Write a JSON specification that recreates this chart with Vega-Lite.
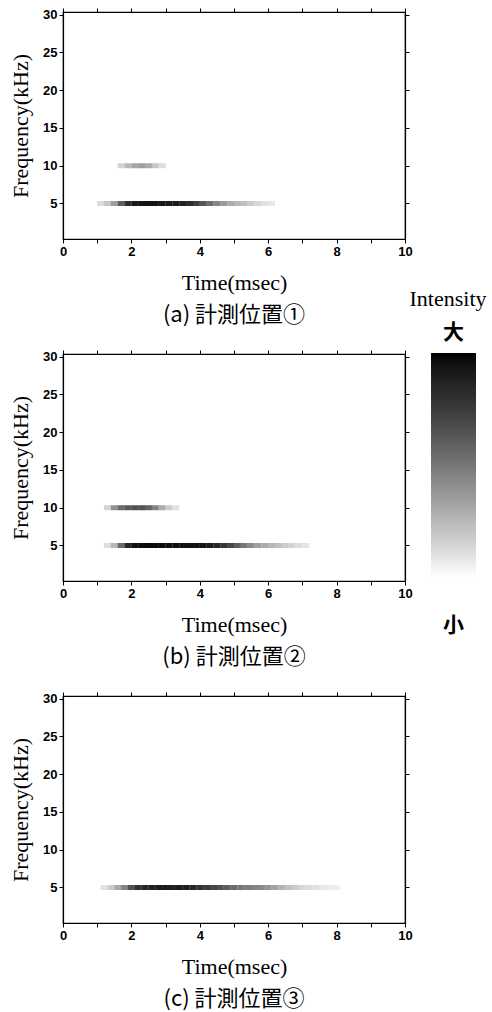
{
  "$schema": "https://vega.github.io/schema/vega-lite/v6.json",
  "background": "white",
  "padding": {"left": 8, "top": 6, "right": 0, "bottom": 0},
  "datasets": {
    "a": [
      {"t":1.1,"f":5,"v":0.12},{"t":1.3,"f":5,"v":0.2},{"t":1.5,"f":5,"v":0.35},{"t":1.7,"f":5,"v":0.6},{"t":1.9,"f":5,"v":0.8},
      {"t":2.1,"f":5,"v":0.9},{"t":2.3,"f":5,"v":0.93},{"t":2.5,"f":5,"v":0.93},{"t":2.7,"f":5,"v":0.93},{"t":2.9,"f":5,"v":0.92},
      {"t":3.1,"f":5,"v":0.9},{"t":3.3,"f":5,"v":0.9},{"t":3.5,"f":5,"v":0.87},{"t":3.7,"f":5,"v":0.82},{"t":3.9,"f":5,"v":0.74},
      {"t":4.1,"f":5,"v":0.64},{"t":4.3,"f":5,"v":0.54},{"t":4.5,"f":5,"v":0.44},{"t":4.7,"f":5,"v":0.36},{"t":4.9,"f":5,"v":0.3},
      {"t":5.1,"f":5,"v":0.26},{"t":5.3,"f":5,"v":0.22},{"t":5.5,"f":5,"v":0.18},{"t":5.7,"f":5,"v":0.14},{"t":5.9,"f":5,"v":0.1},
      {"t":6.1,"f":5,"v":0.08},
      {"t":1.7,"f":10,"v":0.15},{"t":1.9,"f":10,"v":0.25},{"t":2.1,"f":10,"v":0.32},{"t":2.3,"f":10,"v":0.35},{"t":2.5,"f":10,"v":0.3},
      {"t":2.7,"f":10,"v":0.2},{"t":2.9,"f":10,"v":0.12}
    ],
    "b": [
      {"t":1.3,"f":10,"v":0.15},{"t":1.5,"f":10,"v":0.4},{"t":1.7,"f":10,"v":0.55},{"t":1.9,"f":10,"v":0.62},{"t":2.1,"f":10,"v":0.65},
      {"t":2.3,"f":10,"v":0.65},{"t":2.5,"f":10,"v":0.58},{"t":2.7,"f":10,"v":0.45},{"t":2.9,"f":10,"v":0.3},{"t":3.1,"f":10,"v":0.18},
      {"t":3.3,"f":10,"v":0.1},
      {"t":1.3,"f":5,"v":0.12},{"t":1.5,"f":5,"v":0.25},{"t":1.7,"f":5,"v":0.55},{"t":1.9,"f":5,"v":0.85},{"t":2.1,"f":5,"v":0.95},
      {"t":2.3,"f":5,"v":0.97},{"t":2.5,"f":5,"v":0.97},{"t":2.7,"f":5,"v":0.97},{"t":2.9,"f":5,"v":0.97},{"t":3.1,"f":5,"v":0.96},
      {"t":3.3,"f":5,"v":0.96},{"t":3.5,"f":5,"v":0.95},{"t":3.7,"f":5,"v":0.95},{"t":3.9,"f":5,"v":0.94},{"t":4.1,"f":5,"v":0.93},
      {"t":4.3,"f":5,"v":0.9},{"t":4.5,"f":5,"v":0.85},{"t":4.7,"f":5,"v":0.78},{"t":4.9,"f":5,"v":0.7},{"t":5.1,"f":5,"v":0.6},
      {"t":5.3,"f":5,"v":0.5},{"t":5.5,"f":5,"v":0.42},{"t":5.7,"f":5,"v":0.35},{"t":5.9,"f":5,"v":0.3},{"t":6.1,"f":5,"v":0.26},
      {"t":6.3,"f":5,"v":0.22},{"t":6.5,"f":5,"v":0.18},{"t":6.7,"f":5,"v":0.15},{"t":6.9,"f":5,"v":0.12},{"t":7.1,"f":5,"v":0.09}
    ],
    "c": [
      {"t":1.2,"f":5,"v":0.1},{"t":1.4,"f":5,"v":0.18},{"t":1.6,"f":5,"v":0.3},{"t":1.8,"f":5,"v":0.45},{"t":2.0,"f":5,"v":0.65},
      {"t":2.2,"f":5,"v":0.8},{"t":2.4,"f":5,"v":0.85},{"t":2.6,"f":5,"v":0.88},{"t":2.8,"f":5,"v":0.9},{"t":3.0,"f":5,"v":0.9},
      {"t":3.2,"f":5,"v":0.88},{"t":3.4,"f":5,"v":0.9},{"t":3.6,"f":5,"v":0.88},{"t":3.8,"f":5,"v":0.85},{"t":4.0,"f":5,"v":0.8},
      {"t":4.2,"f":5,"v":0.75},{"t":4.4,"f":5,"v":0.7},{"t":4.6,"f":5,"v":0.65},{"t":4.8,"f":5,"v":0.6},{"t":5.0,"f":5,"v":0.55},
      {"t":5.2,"f":5,"v":0.5},{"t":5.4,"f":5,"v":0.48},{"t":5.6,"f":5,"v":0.45},{"t":5.8,"f":5,"v":0.42},{"t":6.0,"f":5,"v":0.38},
      {"t":6.2,"f":5,"v":0.33},{"t":6.4,"f":5,"v":0.27},{"t":6.6,"f":5,"v":0.22},{"t":6.8,"f":5,"v":0.18},{"t":7.0,"f":5,"v":0.14},
      {"t":7.2,"f":5,"v":0.12},{"t":7.4,"f":5,"v":0.1},{"t":7.6,"f":5,"v":0.08},{"t":7.8,"f":5,"v":0.07},{"t":8.0,"f":5,"v":0.06}
    ]
  },
  "config": {
    "view": {"stroke": "black", "strokeWidth": 1.2},
    "axis": {
      "domainColor": "black", "domainWidth": 1.2, "tickColor": "black", "tickSize": 4, "tickWidth": 1,
      "labelColor": "black", "labelFont": "Liberation Sans", "labelFontSize": 13, "labelFontWeight": "bold",
      "titleColor": "black", "titleFont": "Liberation Serif", "titleFontSize": 22, "titleFontWeight": "normal",
      "grid": false, "labelFlush": false
    },
    "title": {"font": "Noto Sans CJK JP", "fontSize": 22, "fontWeight": "normal", "color": "black", "orient": "bottom", "anchor": "middle", "frame": "group", "offset": 12},
    "legend": {"labelOverlap": false}
  },
  "spacing": 21,
  "vconcat": [
    {
      "data": {"name": "a"},
      "width": 342, "height": 227,
      "title": {"text": "(a) 計測位置①"},
      "layer": [
        {
          "mark": {"type": "rect", "width": 7, "height": 5},
          "encoding": {
            "x": {"field": "t", "type": "quantitative", "scale": {"domain": [0, 10], "nice": false}, "axis": {"title": "Time(msec)", "values": [0,1,2,3,4,5,6,7,8,9,10], "labelExpr": "datum.value % 2 == 0 ? datum.label : ''", "labelPadding": 2, "titlePadding": 14}},
            "y": {"field": "f", "type": "quantitative", "scale": {"domain": [0.3, 30.35], "nice": false, "zero": false}, "axis": {"title": "Frequency(kHz)", "values": [5,10,15,20,25,30], "labelPadding": 2, "titlePadding": 10}},
            "color": {"field": "v", "type": "quantitative", "scale": {"domain": [0, 1], "range": ["#ffffff", "#000000"]},
              "legend": {"orient": "none", "legendX": 347, "legendY": 277, "direction": "vertical", "title": "Intensity",
                "titleFont": "Liberation Serif", "titleFontSize": 22, "titleFontWeight": "normal", "titleColor": "black", "titlePadding": 42, "titleAnchor": "middle",
                "gradientLength": 225, "gradientThickness": 45, "gradientStrokeWidth": 0, "values": [0, 1],
                "labelExpr": "datum.value >= 1 ? '大' : '小'", "labelFont": "Noto Sans CJK JP", "labelFontSize": 21, "labelFontWeight": "bold", "labelColor": "black",
                "labelOffset": -22.5,
                "encode": {"title": {"update": {"dx": {"value": -6}}}, "labels": {"update": {"align": {"value": "center"}, "baseline": {"value": "middle"}, "dy": {"signal": "datum.value >= 1 ? -20 : 48"}}}}}}
          }
        },
        {
          "mark": {"type": "rect", "width": 7, "height": 5, "opacity": 0},
          "encoding": {
            "x": {"field": "t", "type": "quantitative", "axis": {"orient": "top", "values": [0,1,2,3,4,5,6,7,8,9,10], "labels": false, "title": null}},
            "y": {"field": "f", "type": "quantitative", "axis": {"orient": "right", "values": [5,10,15,20,25,30], "labels": false, "title": null}}
          }
        }
      ],
      "resolve": {"axis": {"x": "independent", "y": "independent"}}
    },
    {
      "data": {"name": "b"},
      "width": 342, "height": 227,
      "title": {"text": "(b) 計測位置②"},
      "layer": [
        {
          "mark": {"type": "rect", "width": 7, "height": 5},
          "encoding": {
            "x": {"field": "t", "type": "quantitative", "scale": {"domain": [0, 10], "nice": false}, "axis": {"title": "Time(msec)", "values": [0,1,2,3,4,5,6,7,8,9,10], "labelExpr": "datum.value % 2 == 0 ? datum.label : ''", "labelPadding": 2, "titlePadding": 14}},
            "y": {"field": "f", "type": "quantitative", "scale": {"domain": [0.3, 30.35], "nice": false, "zero": false}, "axis": {"title": "Frequency(kHz)", "values": [5,10,15,20,25,30], "labelPadding": 2, "titlePadding": 10}},
            "color": {"field": "v", "type": "quantitative", "scale": {"domain": [0, 1], "range": ["#ffffff", "#000000"]},
              "legend": {"orient": "none", "legendX": 347, "legendY": 277, "direction": "vertical", "title": "Intensity",
                "titleFont": "Liberation Serif", "titleFontSize": 22, "titleFontWeight": "normal", "titleColor": "black", "titlePadding": 42, "titleAnchor": "middle",
                "gradientLength": 225, "gradientThickness": 45, "gradientStrokeWidth": 0, "values": [0, 1],
                "labelExpr": "datum.value >= 1 ? '大' : '小'", "labelFont": "Noto Sans CJK JP", "labelFontSize": 21, "labelFontWeight": "bold", "labelColor": "black",
                "labelOffset": -22.5,
                "encode": {"title": {"update": {"dx": {"value": -6}}}, "labels": {"update": {"align": {"value": "center"}, "baseline": {"value": "middle"}, "dy": {"signal": "datum.value >= 1 ? -20 : 48"}}}}}}
          }
        },
        {
          "mark": {"type": "rect", "width": 7, "height": 5, "opacity": 0},
          "encoding": {
            "x": {"field": "t", "type": "quantitative", "axis": {"orient": "top", "values": [0,1,2,3,4,5,6,7,8,9,10], "labels": false, "title": null}},
            "y": {"field": "f", "type": "quantitative", "axis": {"orient": "right", "values": [5,10,15,20,25,30], "labels": false, "title": null}}
          }
        }
      ],
      "resolve": {"axis": {"x": "independent", "y": "independent"}}
    },
    {
      "data": {"name": "c"},
      "width": 342, "height": 227,
      "title": {"text": "(c) 計測位置③"},
      "layer": [
        {
          "mark": {"type": "rect", "width": 7, "height": 5},
          "encoding": {
            "x": {"field": "t", "type": "quantitative", "scale": {"domain": [0, 10], "nice": false}, "axis": {"title": "Time(msec)", "values": [0,1,2,3,4,5,6,7,8,9,10], "labelExpr": "datum.value % 2 == 0 ? datum.label : ''", "labelPadding": 2, "titlePadding": 14}},
            "y": {"field": "f", "type": "quantitative", "scale": {"domain": [0.3, 30.35], "nice": false, "zero": false}, "axis": {"title": "Frequency(kHz)", "values": [5,10,15,20,25,30], "labelPadding": 2, "titlePadding": 10}},
            "color": {"field": "v", "type": "quantitative", "scale": {"domain": [0, 1], "range": ["#ffffff", "#000000"]},
              "legend": {"orient": "none", "legendX": 347, "legendY": 277, "direction": "vertical", "title": "Intensity",
                "titleFont": "Liberation Serif", "titleFontSize": 22, "titleFontWeight": "normal", "titleColor": "black", "titlePadding": 42, "titleAnchor": "middle",
                "gradientLength": 225, "gradientThickness": 45, "gradientStrokeWidth": 0, "values": [0, 1],
                "labelExpr": "datum.value >= 1 ? '大' : '小'", "labelFont": "Noto Sans CJK JP", "labelFontSize": 21, "labelFontWeight": "bold", "labelColor": "black",
                "labelOffset": -22.5,
                "encode": {"title": {"update": {"dx": {"value": -6}}}, "labels": {"update": {"align": {"value": "center"}, "baseline": {"value": "middle"}, "dy": {"signal": "datum.value >= 1 ? -20 : 48"}}}}}}
          }
        },
        {
          "mark": {"type": "rect", "width": 7, "height": 5, "opacity": 0},
          "encoding": {
            "x": {"field": "t", "type": "quantitative", "axis": {"orient": "top", "values": [0,1,2,3,4,5,6,7,8,9,10], "labels": false, "title": null}},
            "y": {"field": "f", "type": "quantitative", "axis": {"orient": "right", "values": [5,10,15,20,25,30], "labels": false, "title": null}}
          }
        }
      ],
      "resolve": {"axis": {"x": "independent", "y": "independent"}}
    }
  ]
}
